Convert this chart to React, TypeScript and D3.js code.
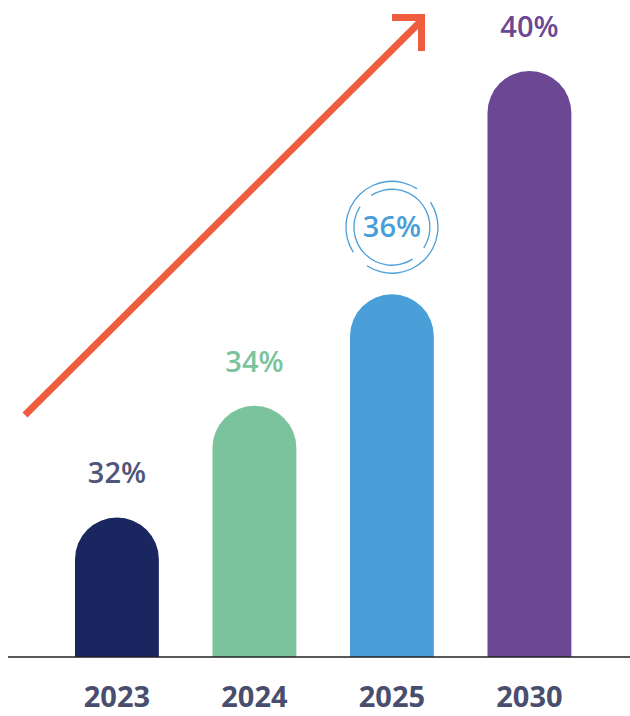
import * as d3 from 'd3'
import React from 'react'

const years = ['2023', '2024', '2025', '2030']
const shares = [32, 34, 36, 40]
const barColors = ['#1a2660', '#7bc39d', '#4a9fd8', '#6b4794']
const labelColors = ['#50557a', '#7bc39d', '#4a9fd8', '#6b4794']

const W = 630
const H = 716
const baseY = 657

export default function App() {
  const
    x = d3.scaleBand<string>().domain(years).range([6.25, 640.1]).paddingInner(0.39).paddingOuter(0.5),
    y = d3.scaleLinear().domain([29.5, 40]).range([baseY, 71]),
    bw = x.bandwidth(),
    r = bw / 2

  const barPath = (year: string, v: number) => {
    const p = d3.path(), x0 = x(year)!, top = y(v)
    p.moveTo(x0, baseY)
    p.lineTo(x0, top + r)
    p.arc(x0 + r, top + r, r, Math.PI, 0)
    p.lineTo(x0 + bw, baseY)
    p.closePath()
    return p.toString()
  }

  const ring = (rad: number, gaps: number[]) => {
    // arcs between gaps, angles in degrees clockwise from top
    const gap = 24
    return gaps.map((g, i) => {
      const next = gaps[(i + 1) % gaps.length] + (i + 1 === gaps.length ? 360 : 0)
      return d3.arc()({
        innerRadius: rad - 0.65,
        outerRadius: rad + 0.65,
        startAngle: (g + gap / 2) * Math.PI / 180,
        endAngle: (next - gap / 2) * Math.PI / 180,
      }) as string
    })
  }

  return (
    <div style={{ position: 'absolute', left: 0, top: 0 }}>
      <svg width={W} height={H} style={{ display: 'block', background: '#fff' }}>
        {/* trend arrow */}
        <g stroke='#ef5d3f' strokeWidth={7} fill='none'>
          <line x1={25} y1={415} x2={421} y2={21} />
          <polyline points='392,17.5 421.5,17.5 421.5,51' strokeLinecap='butt' strokeLinejoin='miter' />
        </g>

        {years.map((yr, i) => (
          <path key={yr} d={barPath(yr, shares[i])} fill={barColors[i]} />
        ))}

        <line x1={8} x2={W} y1={baseY} y2={baseY} stroke='#222' strokeWidth={1.6} />

        {years.map((yr, i) => {
          const cx = x(yr)! + r, top = y(shares[i])
          if (yr === '2025') {
            const cy = top - 67
            return (
              <g key={yr}>
                <g transform={`translate(${cx},${cy})`} fill={barColors[i]}>
                  {ring(46, [45, 225]).map((d, k) => <path key={'o' + k} d={d} />)}
                  {ring(38, [135, 315]).map((d, k) => <path key={'i' + k} d={d} />)}
                </g>
                <text x={cx} y={cy + 10} textAnchor='middle' fontFamily='Open Sans' fontWeight={600} fontSize={29} fill={labelColors[i]}>
                  {shares[i]}%
                </text>
              </g>
            )
          }
          return (
            <text key={yr} x={cx} y={top - 34} textAnchor='middle' fontFamily='Open Sans' fontWeight={600} fontSize={29} fill={labelColors[i]}>
              {shares[i]}%
            </text>
          )
        })}

        {years.map(yr => (
          <text key={yr} x={x(yr)! + r} y={707} textAnchor='middle' fontFamily='Open Sans' fontWeight={700} fontSize={29} fill='#4a4e6e'>
            {yr}
          </text>
        ))}
      </svg>
    </div>
  )
}
